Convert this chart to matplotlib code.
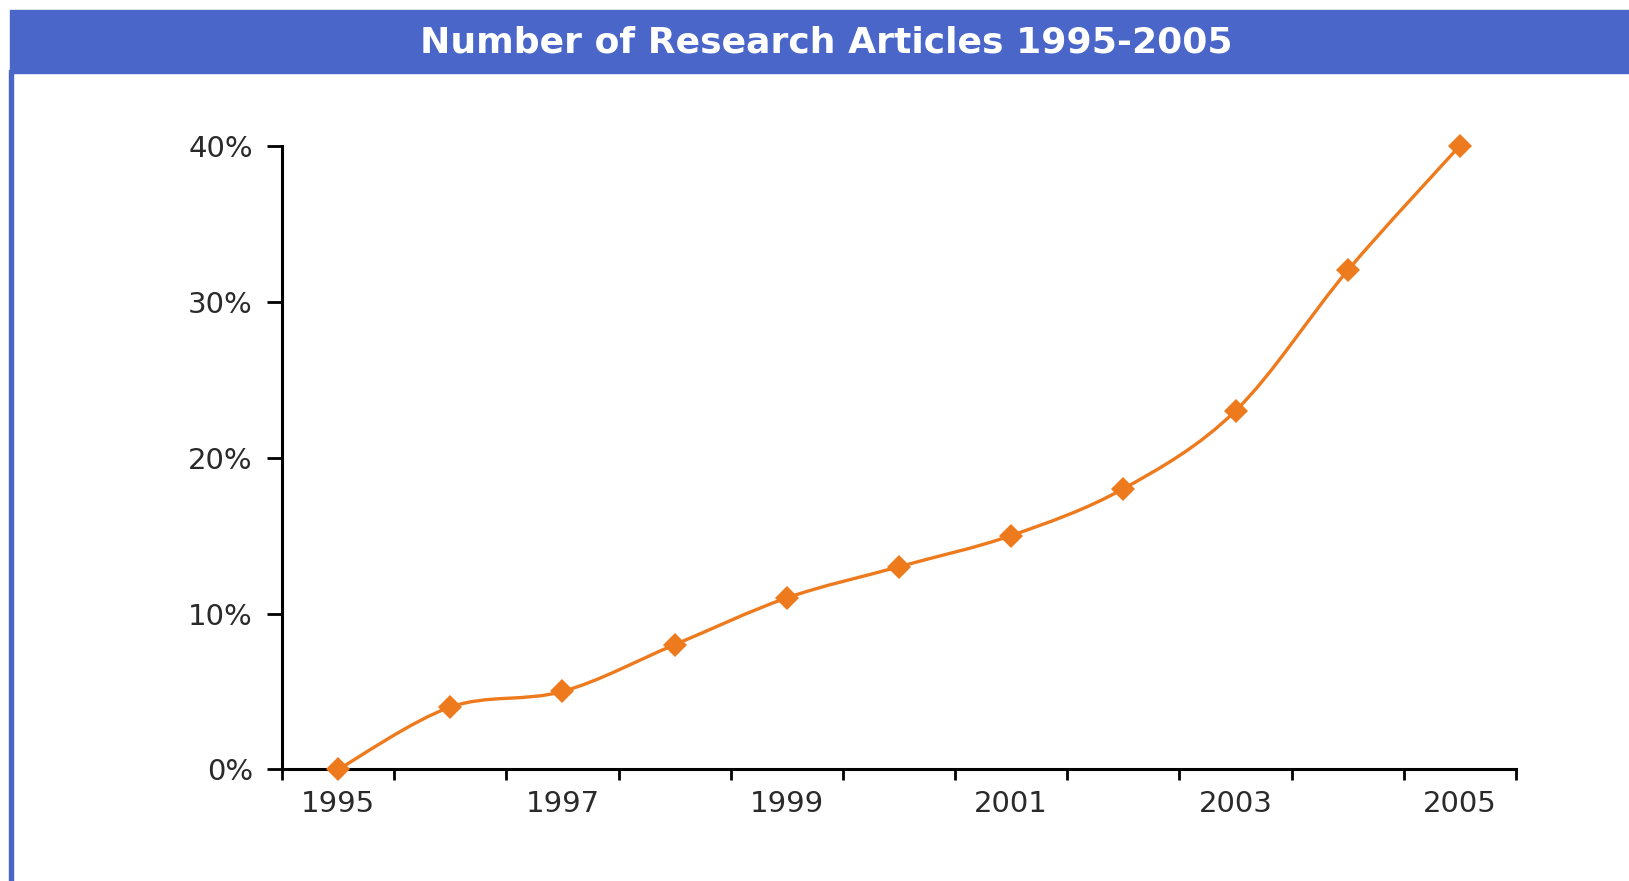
import matplotlib.pyplot as plt
from matplotlib.path import Path
from matplotlib.patches import PathPatch, Rectangle
import numpy as np

# data
years = ['1995', '1996', '1997', '1998', '1999', '2000', '2001', '2002', '2003', '2004', '2005']
share = [0, 4, 5, 8, 11, 13, 15, 18, 23, 32, 40]   # percent
yticks = [0, 10, 20, 30, 40]

orange = '#EE7A1E'
blue = '#4A66C9'

fig = plt.figure(figsize=(16.29, 8.81), dpi=100)

# title bar + left border like the original frame
fig.patches.append(Rectangle((10 / 1629, 0.917), 1 - 10 / 1629, 0.0716,
                             transform=fig.transFigure, color=blue, zorder=0))
fig.patches.append(Rectangle((9 / 1629, 0), 4 / 1629, 0.92,
                             transform=fig.transFigure, color=blue, zorder=0))
fig.text(0.5074, 0.9516, 'Number of Research Articles 1995-2005', color='white',
         fontsize=26, fontweight='bold', family='DejaVu Sans',
         ha='center', va='center')

ax = fig.add_axes([0.1731, 0.1266, 0.7575, 0.708])

x = np.arange(len(years))
y = np.array(share, dtype=float)

# smoothed line (Excel-style bezier through the points)
verts = [(x[0], y[0])]
codes = [Path.MOVETO]
n = len(x)
for i in range(n - 1):
    p0 = np.array([x[max(i - 1, 0)], y[max(i - 1, 0)]])
    p1 = np.array([x[i], y[i]])
    p2 = np.array([x[i + 1], y[i + 1]])
    p3 = np.array([x[min(i + 2, n - 1)], y[min(i + 2, n - 1)]])
    c1 = p1 + (p2 - p0) / 6
    c2 = p2 - (p3 - p1) / 6
    verts += [tuple(c1), tuple(c2), tuple(p2)]
    codes += [Path.CURVE4] * 3
ax.add_patch(PathPatch(Path(verts, codes), fill=False, edgecolor=orange, lw=2.4,
                       zorder=2))
ax.plot(x, y, linestyle='none', marker='D', markersize=12, color=orange,
        markeredgewidth=0, zorder=3, clip_on=False)

ax.set_xlim(-0.5, len(years) - 0.5)
ax.set_ylim(0, 40)

# boundary ticks (major) and every-other-year labels (minor)
ax.set_xticks(np.arange(-0.5, len(years), 1.0))
ax.set_xticklabels([])
ax.set_xticks(x[::2], minor=True)
ax.set_xticklabels(years[::2], minor=True)
ax.tick_params(axis='x', which='major', length=8, width=2, direction='out', color='black')
ax.tick_params(axis='x', which='minor', length=0, pad=15, labelsize=21, labelcolor='#2a2a2a')

ax.set_yticks(yticks)
ax.set_yticklabels([f'{v}%' for v in yticks])
ax.tick_params(axis='y', length=11, width=2, direction='out', pad=10,
               labelsize=21, labelcolor='#2a2a2a')

for lbl in ax.get_xticklabels(minor=True) + ax.get_yticklabels():
    lbl.set_family('DejaVu Sans')

for s in ['top', 'right']:
    ax.spines[s].set_visible(False)
for s in ['left', 'bottom']:
    ax.spines[s].set_linewidth(2.2)
    ax.spines[s].set_color('black')

fig.savefig('out.png', dpi=100)
